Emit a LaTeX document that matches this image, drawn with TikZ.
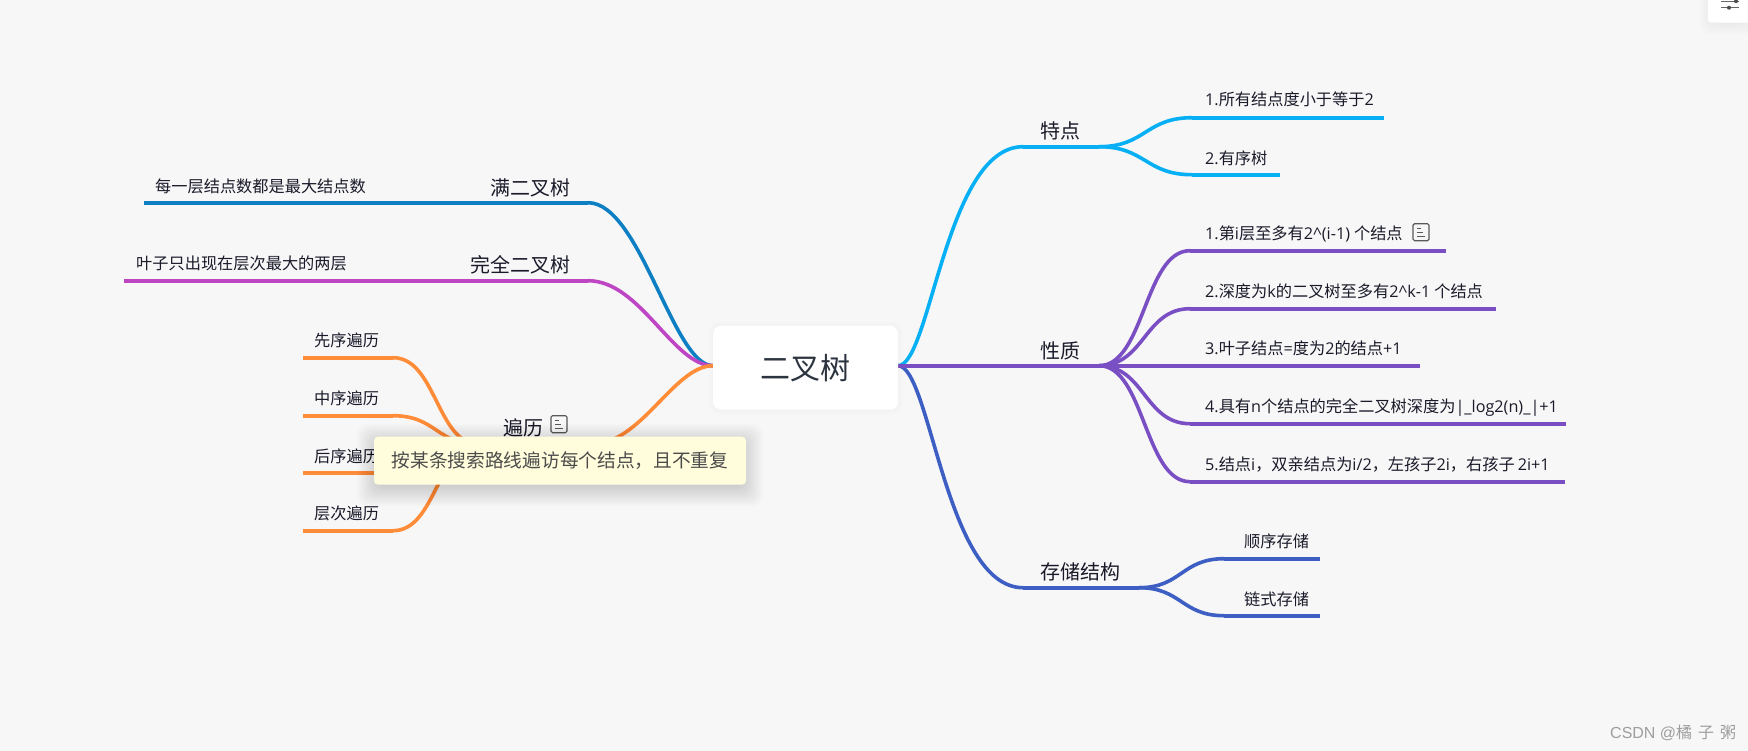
\documentclass[tikz,border=0pt]{standalone}
\usepackage{fontspec}
\setmainfont{Noto Sans CJK SC}
\newfontfamily\lat{Open Sans}
\newfontfamily\wmlat{Liberation Sans}
\usetikzlibrary{calc}
\definecolor{bgc}{HTML}{F7F7F7}
\definecolor{cTe}{HTML}{07B0F5}
\definecolor{cXing}{HTML}{7A4FC4}
\definecolor{cCun}{HTML}{3D5FC4}
\definecolor{cMan}{HTML}{0F7FC4}
\definecolor{cWan}{HTML}{BE45C4}
\definecolor{cBian}{HTML}{FF8C38}
\definecolor{tipbg}{HTML}{FFFDDB}
\definecolor{inkc}{HTML}{1A1A2A}
\definecolor{rootink}{HTML}{2C3440}
\tikzset{
  linkline/.style={line width=3.6pt,line cap=butt,line join=round},
  topic/.style={inner sep=0pt,font=\fontsize{20}{24}\selectfont,text=inkc},
  leaf/.style={inner sep=0pt,font=\fontsize{16.2}{20}\selectfont,text=inkc},
  noteicon/.style={draw=#1,line width=1.1pt,rounded corners=1.5pt}
}
\newcommand{\la}[1]{{\lat #1}}
\newcommand{\mmlink}[5]{\draw[linkline,#1] let \p1=(#2),\p2=(#3) in (\p1) .. controls ({\x1+#4*(\x2-\x1)},{\y1}) and ({\x1+#5*(\x2-\x1)},{\y2}) .. (\p2);}
\newcommand{\softshadow}[7]{\foreach \i in {1,...,#7}{\fill[black,opacity=#6,rounded corners=10pt] ({#1-#5*(1-\i/#7)},{#2-#5*(1-\i/#7)}) rectangle ({#3+#5*(1-\i/#7)},{#4+#5*(1-\i/#7)});}}
\newcommand{\notemark}[2]{\draw[noteicon=black!65] (#1,#2) rectangle ++(16,17);
  \draw[black!65,line width=1pt] (#1+4,#2+5) -- ++(4,0) (#1+4,#2+9) -- ++(6,0) (#1+4,#2+13) -- ++(8,0);}
\begin{document}
\begin{tikzpicture}[x=1pt,y=-1pt]
\useasboundingbox (0,-0.7) rectangle (1748,749.3);
\fill[bgc] (-1,-2) rectangle (1749,751);

% coordinates of the connector ends
\coordinate (rootR) at (898,365);
\coordinate (rootL) at (713,365);
\coordinate (teA) at (1023,146);   \coordinate (teB) at (1099,146);
\coordinate (te1a) at (1192,117);  \coordinate (te1b) at (1384,117);
\coordinate (te2a) at (1192,174);  \coordinate (te2b) at (1280,174);
\coordinate (xzB) at (1099,365);
\coordinate (xz1a) at (1190,250);  \coordinate (xz1b) at (1446,250);
\coordinate (xz2a) at (1190,308);  \coordinate (xz2b) at (1496,308);
\coordinate (xz3b) at (1420,365);
\coordinate (xz4a) at (1190,423);  \coordinate (xz4b) at (1566,423);
\coordinate (xz5a) at (1190,481);  \coordinate (xz5b) at (1565,481);
\coordinate (ccA) at (1023,587);   \coordinate (ccB) at (1139,587);
\coordinate (cc1a) at (1224,558);  \coordinate (cc1b) at (1320,558);
\coordinate (cc2a) at (1224,615);  \coordinate (cc2b) at (1320,615);
\coordinate (manA) at (588,202);   \coordinate (manB) at (144,202);
\coordinate (wanA) at (588,280);   \coordinate (wanB) at (124,280);
\coordinate (biA) at (590,444);    \coordinate (biB) at (480,444);
\coordinate (bi1a) at (393,357);   \coordinate (bi1b) at (303,357);
\coordinate (bi2a) at (393,415);   \coordinate (bi2b) at (303,415);
\coordinate (bi3a) at (393,472);   \coordinate (bi3b) at (303,472);
\coordinate (bi4a) at (393,530);   \coordinate (bi4b) at (303,530);

% connectors
\mmlink{cMan}{rootL}{manA}{.32}{.58}
\draw[linkline,cMan] (manA) -- (manB);
\mmlink{cWan}{rootL}{wanA}{.32}{.58}
\draw[linkline,cWan] (wanA) -- (wanB);
\mmlink{cBian}{rootL}{biA}{.32}{.58}
\draw[linkline,cBian] (biA) -- (biB);
\foreach \kk in {1,2,3,4}{
  \mmlink{cBian}{biB}{bi\kk a}{.5}{.5}
  \draw[linkline,cBian] (bi\kk a) -- (bi\kk b);
}
\mmlink{cCun}{rootR}{ccA}{.26}{.38}
\draw[linkline,cCun] (ccA) -- (ccB);
\foreach \kk in {1,2}{
  \mmlink{cCun}{ccB}{cc\kk a}{.5}{.5}
  \draw[linkline,cCun] (cc\kk a) -- (cc\kk b);
}
\mmlink{cTe}{rootR}{teA}{.26}{.38}
\draw[linkline,cTe] (teA) -- (teB);
\foreach \kk in {1,2}{
  \mmlink{cTe}{teB}{te\kk a}{.5}{.5}
  \draw[linkline,cTe] (te\kk a) -- (te\kk b);
}
\draw[linkline,cXing] (rootR) -- (xzB);
\foreach \kk in {1,2,4,5}{
  \mmlink{cXing}{xzB}{xz\kk a}{.5}{.5}
  \draw[linkline,cXing] (xz\kk a) -- (xz\kk b);
}
\draw[linkline,cXing] (xzB) -- (xz3b);

% central topic
\softshadow{713}{325}{898}{409}{6}{.005}{6}
\node[fill=white,rounded corners=8pt,minimum width=185pt,minimum height=84pt,inner sep=0pt,
      font=\fontsize{30}{36}\selectfont,text=rootink] (root) at (805.5,367) {二叉树};

% right branches
\node[topic,anchor=west] (te) at (1040,130.5) {特点};
\node[leaf,anchor=west] (te1) at (1205,99) {\la{1.}所有结点度小于等于\la{2}};
\node[leaf,anchor=west] (te2) at (1205,158) {\la{2.}有序树};
\node[topic,anchor=west] (xz) at (1040,350.5) {性质};
\node[leaf,anchor=west] (xz1) at (1205,233) {\la{1.}第\la{i}层至多有\la{2\textasciicircum(i-1)}\kern4pt 个结点};
\notemark{1413}{223}
\node[leaf,anchor=west] (xz2) at (1205,291) {\la{2.}深度为\la{k}的二叉树至多有\la{2\textasciicircum k-1}\kern4pt 个结点};
\node[leaf,anchor=west] (xz3) at (1205,348) {\la{3.}叶子结点\la{=}度为\la{2}的结点\la{+1}};
\node[leaf,anchor=west] (xz4) at (1205,407) {\la{4.}具有\la{n}个结点的完全二叉树深度为\la{|\_log2(n)\_|+1}};
\node[leaf,anchor=west] (xz5) at (1205,464) {\la{5.}结点\la{i}，双亲结点为\la{i/2}，左孩子\la{2i}，右孩子\kern3pt\la{2i+1}};
\node[topic,anchor=west] (cc) at (1040,571.5) {存储结构};
\node[leaf,anchor=west] (cc1) at (1244,541) {顺序存储};
\node[leaf,anchor=west] (cc2) at (1244,599) {链式存储};

% left branches
\node[topic,anchor=east] (man) at (570.5,187) {满二叉树};
\node[leaf,anchor=west] (man1) at (155,186) {每一层结点数都是最大结点数};
\node[topic,anchor=east] (wan) at (570.5,264) {完全二叉树};
\node[leaf,anchor=west] (wan1) at (136,263) {叶子只出现在层次最大的两层};
\node[topic,anchor=west] (bi) at (503,427) {遍历};
\notemark{551}{415}
\node[leaf,anchor=west] (bi1) at (314,340) {先序遍历};
\node[leaf,anchor=west] (bi2) at (314,398) {中序遍历};
\node[leaf,anchor=west] (bi3) at (314,456) {后序遍历};
\node[leaf,anchor=west] (bi4) at (314,513) {层次遍历};

% tooltip
\softshadow{376}{442}{744}{487}{20}{.007}{20}
\node[fill=tipbg,rounded corners=4pt,minimum width=372pt,minimum height=48pt,inner sep=0pt,
      font=\fontsize{18.7}{22}\selectfont,text=black!70] (tip) at (560,460) {按某条搜索路线遍访每个结点，且不重复};

% toolbar corner
\softshadow{1710}{-10}{1748}{23}{12}{.005}{12}
\fill[white,rounded corners=3pt] (1708,-10) rectangle (1760,22);
\draw[black!60,line width=1.2pt] (1721,7) -- (1739,7) (1721,0.5) -- (1739,0.5);
\fill[black!70] (1729,7) circle (2pt) (1736,0.5) circle (2pt);

% watermark
\node[inner sep=0pt,anchor=west,text=black!38,font=\fontsize{16}{18}\selectfont] (wm) at (1610,732) {{\wmlat CSDN @}{\spaceskip=6pt 橘 子 粥}};
\end{tikzpicture}
\end{document}
